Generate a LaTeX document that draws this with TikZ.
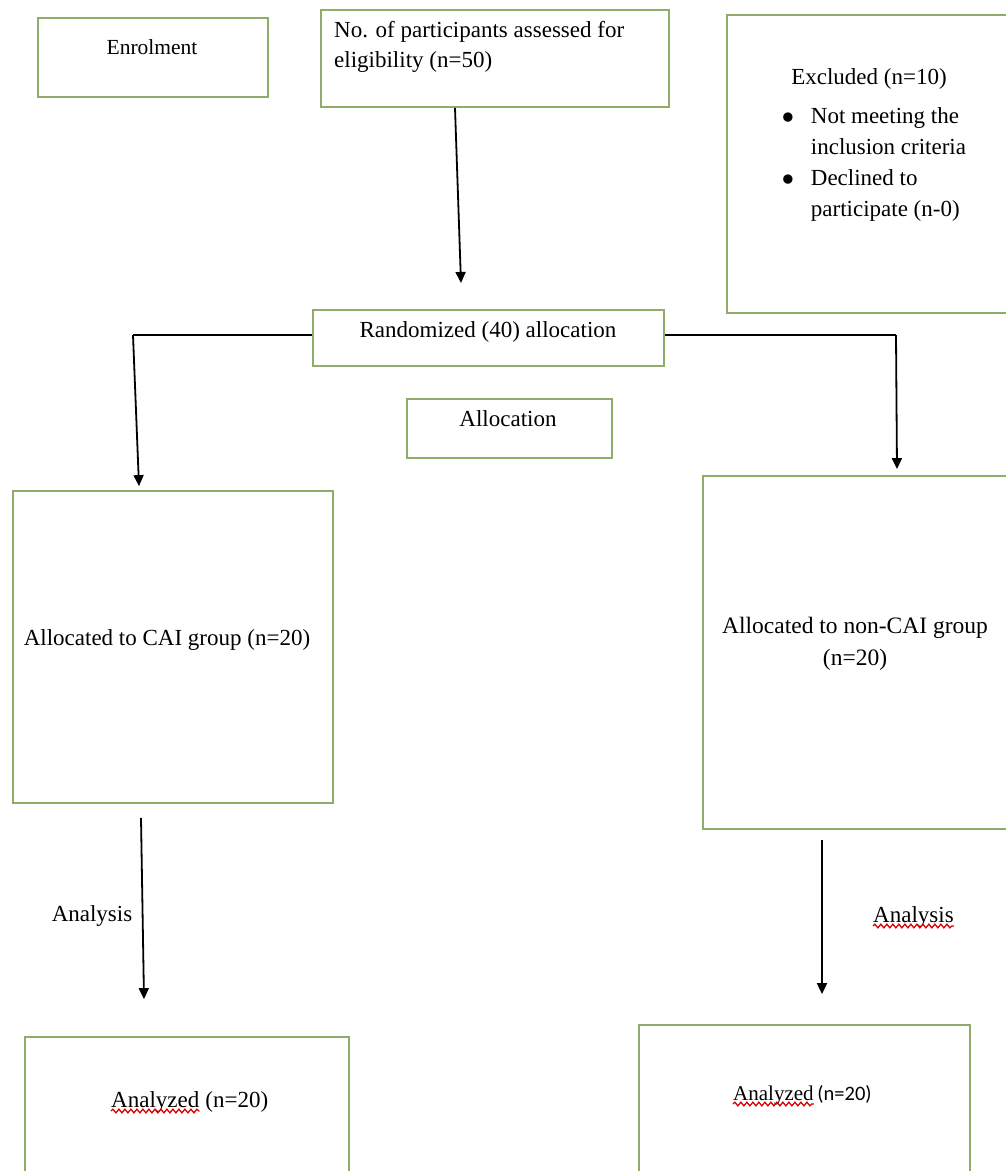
\documentclass[tikz,border=0pt]{standalone}
\usepackage{fontspec}
\setmainfont{Liberation Serif}
\newfontfamily\calfont{Carlito}
\usetikzlibrary{arrows.meta,decorations.pathmorphing}
\definecolor{boxgreen}{RGB}{143,172,104}
\newcommand{\bigbul}{\raisebox{-6.5pt}{\scalebox{1.7}{\textbullet}}}
\begin{document}
\begin{tikzpicture}[x=1pt,y=-1pt,
  box/.style={draw=boxgreen,line width=1.8pt,rectangle,inner sep=0pt},
  txt/.style={font=\fontsize{23}{30}\selectfont,inner sep=0pt,align=center},
  conn/.style={line width=1.8pt,-{Triangle[width=10pt,length=11pt]}},
  plain/.style={line width=1.8pt},
  wavy/.style={draw=red!85!black,line width=1.3pt,decorate,decoration={snake,amplitude=1.8pt,segment length=6pt}}]
\useasboundingbox (0,0) rectangle (1006,1171);
% boxes
\node[box,minimum width=230pt,minimum height=79pt] (enrol) at (153,57.5) {};
\node[box,minimum width=348pt,minimum height=97pt] (elig) at (495,58.5) {};
\node[box,minimum width=282pt,minimum height=298pt] (excl) at (868,164) {};
\node[box,minimum width=351pt,minimum height=56pt] (rand) at (488.5,338) {};
\node[box,minimum width=205pt,minimum height=59pt] (alloc) at (509.5,428.5) {};
\node[box,minimum width=320pt,minimum height=312pt] (cai) at (173,647) {};
\node[box,minimum width=308pt,minimum height=353pt] (noncai) at (857,652.5) {};
\node[box,minimum width=324pt,minimum height=150pt] (anL) at (187,1112) {};
\node[box,minimum width=331pt,minimum height=160pt] (anR) at (804.5,1105) {};
% texts
\node[txt,font=\fontsize{21.5}{30}\selectfont] (enroltxt) at (152,47) {Enrolment};
\node[txt,anchor=west,align=left] (eligtxt) at (334,47) {No. of participants assessed for\\eligibility (n=50)};
\node[txt] (excltxt) at (869,79) {Excluded (n=10)};
\node[txt,anchor=north west,align=left,font=\fontsize{23}{31}\selectfont] (exclist) at (781,102)
  {\begin{tabular}{@{}l@{\hspace{16pt}}l@{}}\bigbul & Not meeting the\\ & inclusion criteria\\ \bigbul & Declined to\\ & participate (n-0)\end{tabular}};
\node[txt] (randtxt) at (488,332) {Randomized (40) allocation};
\node[txt] (alloctxt) at (508,419) {Allocation};
\node[txt] (caitxt) at (167,640) {Allocated to CAI group (n=20)};
\node[txt,font=\fontsize{23.5}{32}\selectfont] (noncaitxt) at (855,644) {Allocated to non-CAI group\\(n=20)};
\node[txt] (analL) at (92,916) {Analysis};
\node[txt,anchor=base west] (analR) at (873,922) {Analysis};
\node[txt,anchor=base west] (anL1) at (111,1107) {Analyzed};
\node[txt,anchor=base west] (anL2) at (anL1.base east) {\ (n=20)};
\node[txt,anchor=base west,font=\fontsize{21}{24}\selectfont] (anR1) at (733,1100) {Analyzed};
\node[txt,anchor=base west,font=\calfont\fontsize{20.5}{24}\selectfont] (anR2) at (anR1.base east) {\,(n=20)};
% spell-check underlines
\draw[wavy] ([yshift=-4pt]analR.base west) -- ([yshift=-4pt]analR.base east);
\draw[wavy] ([yshift=-4pt]anL1.base west) -- ([yshift=-4pt]anL1.base east);
\draw[wavy] ([yshift=-4pt]anR1.base west) -- ([yshift=-4pt]anR1.base east);
% connectors
\coordinate (eligend) at (461,283);
\draw[conn] ([xshift=-40pt]elig.south) -- (eligend);
\coordinate (lcorner) at (133,335);
\coordinate (rcorner) at (896,335);
\draw[plain] ([yshift=3pt]rand.west) -- (lcorner);
\draw[conn] (lcorner) -- ([xshift=-34pt,yshift=4pt]cai.north);
\draw[plain] ([yshift=3pt]rand.east) -- (rcorner);
\draw[conn] (rcorner) -- ([xshift=40pt,yshift=6pt]noncai.north);
\draw[conn] ([xshift=-32pt,yshift=-14pt]cai.south) -- ([xshift=-43pt,yshift=37pt]anL.north);
\draw[conn] ([xshift=-35pt,yshift=-10pt]noncai.south) -- ([xshift=17.5pt,yshift=30pt]anR.north);
\end{tikzpicture}
\end{document}
